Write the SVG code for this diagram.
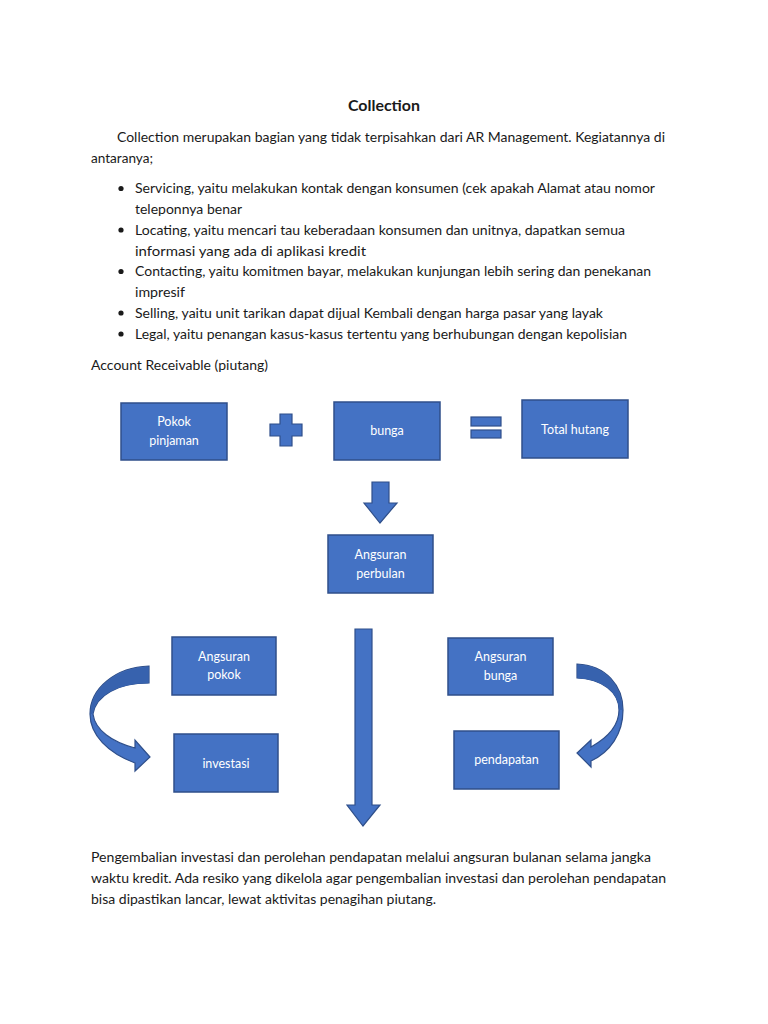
<svg xmlns="http://www.w3.org/2000/svg" width="768" height="1024" viewBox="0 0 768 1024">
<style>
.t{font-family:Lato,"Open Sans","Liberation Sans",sans-serif;font-size:13.6px;fill:#1a1a1a}
.h{font-family:Lato,"Open Sans","Liberation Sans",sans-serif;font-size:15px;font-weight:bold;fill:#1a1a1a}
.box{fill:#4472C4;stroke:#2F4F8A;stroke-width:1.5}
.bt{font-family:Lato,"Open Sans","Liberation Sans",sans-serif;font-size:12.5px;fill:#ffffff;text-anchor:middle}
.sh{fill:#4472C4;stroke:#2F4F8A;stroke-width:1.2}
.dk{fill:#3762AE;stroke:none}
</style>
<rect width="768" height="1024" fill="#ffffff"/>
<g id="text">
<text class="h" x="384" y="111" text-anchor="middle" textLength="72" lengthAdjust="spacingAndGlyphs">Collection</text>
<text class="t" x="117" y="142" textLength="548" lengthAdjust="spacingAndGlyphs">Collection merupakan bagian yang tidak terpisahkan dari AR Management. Kegiatannya di</text>
<text class="t" x="91" y="163" textLength="62" lengthAdjust="spacingAndGlyphs">antaranya;</text>
<g fill="#1a1a1a">
<circle cx="121" cy="188.5" r="2.6"/>
<circle cx="121" cy="230" r="2.6"/>
<circle cx="121" cy="271.5" r="2.6"/>
<circle cx="121" cy="313" r="2.6"/>
<circle cx="121" cy="334" r="2.6"/>
</g>
<text class="t" x="135" y="193" textLength="520" lengthAdjust="spacingAndGlyphs">Servicing, yaitu melakukan kontak dengan konsumen (cek apakah Alamat atau nomor</text>
<text class="t" x="135" y="214" textLength="107" lengthAdjust="spacingAndGlyphs">teleponnya benar</text>
<text class="t" x="135" y="235" textLength="490" lengthAdjust="spacingAndGlyphs">Locating, yaitu mencari tau keberadaan konsumen dan unitnya, dapatkan semua</text>
<text class="t" x="135" y="256" textLength="231" lengthAdjust="spacingAndGlyphs">informasi yang ada di aplikasi kredit</text>
<text class="t" x="135" y="276" textLength="516" lengthAdjust="spacingAndGlyphs">Contacting, yaitu komitmen bayar, melakukan kunjungan lebih sering dan penekanan</text>
<text class="t" x="135" y="297" textLength="50" lengthAdjust="spacingAndGlyphs">impresif</text>
<text class="t" x="135" y="318" textLength="468" lengthAdjust="spacingAndGlyphs">Selling, yaitu unit tarikan dapat dijual Kembali dengan harga pasar yang layak</text>
<text class="t" x="135" y="339" textLength="492" lengthAdjust="spacingAndGlyphs">Legal, yaitu penangan kasus-kasus tertentu yang berhubungan dengan kepolisian</text>
<text class="t" x="91" y="370" textLength="177" lengthAdjust="spacingAndGlyphs">Account Receivable (piutang)</text>
<text class="t" x="91" y="862" textLength="560" lengthAdjust="spacingAndGlyphs">Pengembalian investasi dan perolehan pendapatan melalui angsuran bulanan selama jangka</text>
<text class="t" x="91" y="883" textLength="575" lengthAdjust="spacingAndGlyphs">waktu kredit. Ada resiko yang dikelola agar pengembalian investasi dan perolehan pendapatan</text>
<text class="t" x="91" y="904" textLength="345" lengthAdjust="spacingAndGlyphs">bisa dipastikan lancar, lewat aktivitas penagihan piutang.</text>
</g>
<g id="pokok-pinjaman">
<rect class="box" x="121" y="403" width="106" height="57"/>
<text class="bt" x="174" y="426">Pokok</text>
<text class="bt" x="174" y="445">pinjaman</text>
</g>
<g id="bunga">
<rect class="box" x="334" y="402" width="106" height="58"/>
<text class="bt" x="387" y="435">bunga</text>
</g>
<g id="total-hutang">
<rect class="box" x="522" y="400" width="106" height="58"/>
<text class="bt" x="575" y="434">Total hutang</text>
</g>
<g id="angsuran-perbulan">
<rect class="box" x="328" y="535" width="105" height="58"/>
<text class="bt" x="380.500" y="559">Angsuran</text>
<text class="bt" x="380.500" y="578">perbulan</text>
</g>
<g id="angsuran-pokok">
<rect class="box" x="172" y="637" width="104" height="58"/>
<text class="bt" x="224" y="661">Angsuran</text>
<text class="bt" x="224" y="679">pokok</text>
</g>
<g id="investasi">
<rect class="box" x="174" y="734" width="104" height="58"/>
<text class="bt" x="226" y="768">investasi</text>
</g>
<g id="angsuran-bunga">
<rect class="box" x="448" y="638" width="105" height="57"/>
<text class="bt" x="500.500" y="661">Angsuran</text>
<text class="bt" x="500.500" y="680">bunga</text>
</g>
<g id="pendapatan">
<rect class="box" x="454" y="731" width="105" height="58"/>
<text class="bt" x="506.500" y="764">pendapatan</text>
</g>
<g id="operators">
<polygon class="sh" points="280,414 292,414 292,424 302,424 302,436 292,436 292,446 280,446 280,436 270,436 270,424 280,424"/>
<rect class="sh" x="471" y="417" width="30" height="9"/>
<rect class="sh" x="471" y="430" width="30" height="8"/>
</g>
<g id="connectors">
<polygon class="sh" points="372,482 389,482 389,503 397,503 380,523 364,503 372,503"/>
<polygon class="sh" points="355,629 372,629 372,805 380,805 363,826 347,805 355,805"/>
<path class="sh" d="M149,666 C116,667 90,688 90,714 C90,735 108,753 135,763 L135,771 L150,757 L135,740 L135,748 C112,742 95,730 93,714 C96,695 118,683 149,683 Z"/>
<path class="dk" d="M148.500,666.700 C116.500,667.700 90.800,688 90.800,714 L93,714 C96,695 118,683.500 148.500,683.300 Z"/>
<path class="sh" d="M577,664 C606,665 623,686 623,710 C623,734 610,752 591,761 L591,767 L577,753 L591,740 L591,747 C607,738 619,726 619,710 C619,692 602,679 577,678 Z"/>
<path class="dk" d="M577.600,664.700 C605.500,665.700 622.300,686 622.300,710 L619,710 C619,692 602,679.300 577.600,678.300 Z"/>
</g>
</svg>
